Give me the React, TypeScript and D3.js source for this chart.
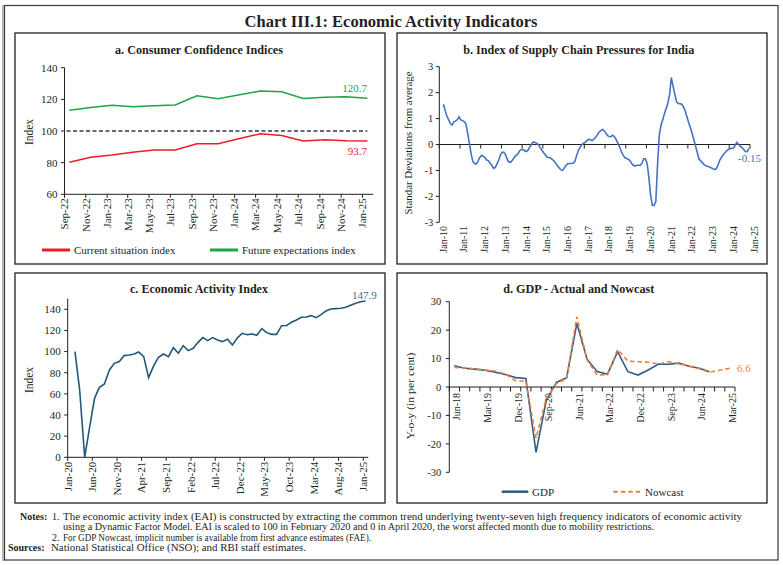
import * as d3 from "d3";

const W = 783;
const H = 565;
const FONT = "'Liberation Serif', 'Times New Roman', serif";
const INK = "#231f20";

// a. Consumer confidence survey rounds (bi-monthly)
const ccRounds = ["Sep-22", "Nov-22", "Jan-23", "Mar-23", "May-23", "Jul-23", "Sep-23", "Nov-23", "Jan-24", "Mar-24", "May-24", "Jul-24", "Sep-24", "Nov-24", "Jan-25"];
const currentSituation = [80.2, 83.4, 84.8, 86.5, 88.0, 88.0, 92.0, 92.0, 95.2, 98.3, 97.1, 93.7, 94.5, 93.9, 93.7];
const futureExpectations = [113.1, 114.9, 116.2, 115.4, 116.0, 116.4, 122.3, 120.4, 122.9, 125.3, 124.8, 120.6, 121.3, 121.7, 120.7];
const ccTicks = [60, 80, 100, 120, 140];
const neutralLevel = 100;

// b. Index of supply chain pressures, monthly from Mar-10 to Dec-24
const scpStart = "Mar-10";
const scpValues = [
  1.55, 1.3, 1.1, 0.95, 0.8, 0.75, 0.88, 0.9, 0.96, 1.07, // 2010 (Mar-Dec)
  0.95, 0.92, 0.88, 0.8, 0.45, 0.05, -0.35, -0.65, -0.73, -0.75, -0.65, -0.5, // 2011
  -0.42, -0.45, -0.5, -0.6, -0.62, -0.72, -0.8, -0.92, -0.88, -0.75, -0.6, -0.4, // 2012
  -0.3, -0.3, -0.4, -0.58, -0.68, -0.68, -0.6, -0.5, -0.42, -0.37, -0.25, -0.19, // 2013
  -0.19, -0.24, -0.27, -0.22, -0.1, 0.0, 0.1, 0.08, 0.04, 0.0, -0.12, -0.22, // 2014
  -0.32, -0.4, -0.48, -0.5, -0.52, -0.57, -0.63, -0.72, -0.82, -0.9, -0.98, -1.0, // 2015
  -0.9, -0.8, -0.74, -0.73, -0.73, -0.72, -0.67, -0.45, -0.25, -0.12, -0.02, 0.04, // 2016
  0.08, 0.15, 0.2, 0.19, 0.15, 0.2, 0.27, 0.36, 0.47, 0.53, 0.58, 0.54, // 2017
  0.45, 0.34, 0.31, 0.3, 0.36, 0.3, 0.2, 0.05, -0.09, -0.27, -0.4, -0.5, // 2018
  -0.54, -0.57, -0.62, -0.72, -0.8, -0.83, -0.8, -0.8, -0.8, -0.72, -0.55, -0.55, // 2019
  -0.75, -1.3, -1.95, -2.35, -2.35, -2.2, -0.8, 0.35, 0.75, 0.95, 1.2, 1.4, // 2020
  1.6, 1.95, 2.58, 2.25, 1.95, 1.65, 1.58, 1.57, 1.55, 1.45, 1.3, 1.07, // 2021
  0.85, 0.65, 0.45, 0.2, -0.05, -0.3, -0.55, -0.63, -0.7, -0.78, -0.82, -0.85, // 2022
  -0.86, -0.9, -0.93, -0.96, -0.95, -0.8, -0.62, -0.5, -0.4, -0.32, -0.25, -0.19, // 2023
  -0.16, -0.15, -0.14, -0.03, 0.08, 0.0, -0.07, -0.12, -0.2, -0.28, -0.27, -0.15, // 2024
];
const scpTicks = [-3, -2, -1, 0, 1, 2, 3];
const scpYears = ["Jan-10", "Jan-11", "Jan-12", "Jan-13", "Jan-14", "Jan-15", "Jan-16", "Jan-17", "Jan-18", "Jan-19", "Jan-20", "Jan-21", "Jan-22", "Jan-23", "Jan-24", "Jan-25"];

// c. Economic activity index, monthly from Feb-20 to Jan-25
const eaiStart = "Feb-20";
const eaiValues = [
  100, 63.6, 0, 28, 55.8, 66.2, 69.4, 82.6, 88.9, 90.5, 96.2,
  96.8, 97.7, 99.6, 95.2, 75.3, 86.4, 94.6, 97.7, 95.2, 103.7, 98.4, 105.6,
  100.9, 103.1, 108.5, 113.2, 110.4, 113.2, 111.0, 109.4, 111.6, 106.2, 113.0, 117.3,
  116.0, 116.6, 115.4, 121.7, 117.9, 116.3, 116.3, 124.5, 124.7, 127.7, 129.9, 132.4,
  132.7, 134.0, 132.1, 135.0, 138.4, 140.3, 140.6, 141.0, 141.9, 143.8, 145.7, 147.2,
  147.9,
];
const eaiTicks = [0, 20, 40, 60, 80, 100, 120, 140];
const eaiLabels = ["Jan-20", "Jun-20", "Nov-20", "Apr-21", "Sep-21", "Feb-22", "Jul-22", "Dec-22", "May-23", "Oct-23", "Mar-24", "Aug-24", "Jan-25"];

// d. GDP growth, quarterly
const quarters = ["Jun-18", "Sep-18", "Dec-18", "Mar-19", "Jun-19", "Sep-19", "Dec-19", "Mar-20", "Jun-20", "Sep-20", "Dec-20", "Mar-21", "Jun-21", "Sep-21", "Dec-21", "Mar-22", "Jun-22", "Sep-22", "Dec-22", "Mar-23", "Jun-23", "Sep-23", "Dec-23", "Mar-24", "Jun-24", "Sep-24", "Dec-24", "Mar-25"];
const gdpActual = [7.5, 6.6, 6.3, 5.9, 5.2, 4.4, 3.3, 3.0, -23.0, -4.8, 1.6, 3.3, 22.4, 9.8, 5.4, 4.5, 12.4, 5.4, 4.2, 6.0, 8.1, 8.0, 8.4, 7.3, 6.6, 5.4];
const gdpNowcast = [6.9, 6.7, 6.4, 6.0, 5.6, 4.5, 2.2, 2.0, -18.0, -4.0, 1.2, 3.0, 24.7, 9.5, 4.2, 4.3, 13.2, 9.1, 8.9, 8.7, 8.1, 8.9, 8.2, 7.4, 6.4, 5.2, 5.9, 6.6];
const gdpTicks = [-30, -20, -10, 0, 10, 20, 30];
const gdpLabels = ["Jun-18", "Mar-19", "Dec-19", "Sep-20", "Jun-21", "Mar-22", "Dec-22", "Sep-23", "Jun-24", "Mar-25"];

const parseMonth = d3.utcParse("%b-%y");
const monthStart = (label: string) => parseMonth(label) as Date;
const midMonth = (label: string) => d3.utcDay.offset(monthStart(label), 14);

function YAxis({ scale, ticks, x, size = 11, gap = 7 }: any) {
  const [y0, y1] = scale.range();
  return (
    <g>
      <line x1={x} x2={x} y1={y0} y2={y1} stroke={INK} strokeWidth={1} />
      {ticks.map((t: number) => (
        <g key={t}>
          <line x1={x - 3.5} x2={x} y1={scale(t)} y2={scale(t)} stroke={INK} strokeWidth={1} />
          <text x={x - gap} y={scale(t)} dy="0.35em" textAnchor="end" fontSize={size} fill={INK}>
            {t}
          </text>
        </g>
      ))}
    </g>
  );
}

function RotText({ x, y, text, size, anchor = "end", length }: any) {
  return (
    <text
      transform={`translate(${x},${y}) rotate(-90)`}
      dy="0.35em"
      textAnchor={anchor}
      fontSize={size}
      fill={INK}
      textLength={length}
      lengthAdjust={length ? "spacingAndGlyphs" : undefined}
    >
      {text}
    </text>
  );
}

function Title({ x, y, text, length }: any) {
  return (
    <text
      x={x}
      y={y}
      textAnchor="middle"
      fontSize={13}
      fontWeight="bold"
      fill={INK}
      textLength={length}
      lengthAdjust="spacingAndGlyphs"
    >
      {text}
    </text>
  );
}

function PanelBox({ x, y, w, h }: any) {
  return <rect x={x} y={y} width={w} height={h} fill="#fff" stroke={INK} strokeWidth={1.3} />;
}

function ConsumerConfidence() {
  const x = d3.scaleUtc().domain([monthStart("Sep-22"), monthStart("Feb-25")]).range([64.5, 373.3]);
  const y = d3.scaleLinear().domain([60, 140]).range([194.3, 67.7]);
  const dates = ccRounds.map(midMonth);
  const path = d3
    .line<number>()
    .x((_, i) => x(dates[i]))
    .y((v) => y(v));
  const baseY = y(60);
  return (
    <g>
      <PanelBox x={15} y={33} w={370} h={231} />
      <Title x={199} y={54} text="a. Consumer Confidence Indices" length={168} />
      <YAxis scale={y} ticks={ccTicks} x={x.range()[0]} />
      <line x1={x.range()[0]} x2={x.range()[1]} y1={baseY} y2={baseY} stroke={INK} />
      {ccRounds.map((label) => {
        const px = x(monthStart(label));
        return (
          <g key={label}>
            <line x1={px} x2={px} y1={baseY} y2={baseY + 3.5} stroke={INK} />
            <RotText x={px} y={baseY + 4} text={label} size={11} />
          </g>
        );
      })}
      <RotText x={29} y={132} text="Index" size={11.5} anchor="middle" />
      <line
        x1={x(monthStart(ccRounds[0])) + 2}
        x2={x(dates[dates.length - 1])}
        y1={y(neutralLevel)}
        y2={y(neutralLevel)}
        stroke="#2c3a4c"
        strokeWidth={1.5}
        strokeDasharray="4,2.5"
      />
      <path d={path(futureExpectations) ?? ""} fill="none" stroke="#21a348" strokeWidth={1.5} />
      <path d={path(currentSituation) ?? ""} fill="none" stroke="#ed1c24" strokeWidth={1.5} />
      <text x={367} y={92} textAnchor="end" fontSize={11} fill="#21a348">
        {futureExpectations[futureExpectations.length - 1].toFixed(1)}
      </text>
      <text x={367} y={155} textAnchor="end" fontSize={11} fill="#ed1c24">
        {currentSituation[currentSituation.length - 1].toFixed(1)}
      </text>
      <line x1={42} x2={70} y1={250} y2={250} stroke="#ed1c24" strokeWidth={3} />
      <text x={74} y={253.8} fontSize={11} fill={INK}>Current situation index</text>
      <line x1={210} x2={238} y1={250} y2={250} stroke="#21a348" strokeWidth={3} />
      <text x={242} y={253.8} fontSize={11} fill={INK}>Future expectations index</text>
    </g>
  );
}

function SupplyChain() {
  const x = d3.scaleUtc().domain([monthStart("Jan-10"), monthStart("Jan-25")]).range([439.3, 750]);
  const y = d3.scaleLinear().domain([-3, 3]).range([222.3, 66.7]);
  const first = midMonth(scpStart);
  const dates = scpValues.map((_, i) => d3.utcMonth.offset(first, i));
  const path = d3
    .line<number>()
    .x((_, i) => x(dates[i]))
    .y((v) => y(v));
  const zeroY = y(0);
  return (
    <g>
      <PanelBox x={397} y={33} w={370} h={231} />
      <Title x={578.7} y={54} text="b. Index of Supply Chain Pressures for India" length={231} />
      <YAxis scale={y} ticks={scpTicks} x={x.range()[0]} size={10.5} gap={6} />
      <line x1={x.range()[0]} x2={x.range()[1]} y1={zeroY} y2={zeroY} stroke={INK} />
      {scpYears.map((label) => {
        const px = x(monthStart(label));
        return (
          <g key={label}>
            <line x1={px} x2={px} y1={zeroY} y2={zeroY + 4} stroke={INK} />
            <RotText x={px + 4} y={226} text={label} size={10} />
          </g>
        );
      })}
      <RotText x={408} y={143} text="Standar Deviations from average" size={11} anchor="middle" length={143} />
      <path d={path(scpValues) ?? ""} fill="none" stroke="#4472c4" strokeWidth={1.6} />
      <text x={738} y={162} fontSize={11} fill="#4472c4">
        {scpValues[scpValues.length - 1].toFixed(2)}
      </text>
    </g>
  );
}

function ActivityIndex() {
  const x = d3.scaleUtc().domain([monthStart("Jan-20"), monthStart("Feb-25")]).range([67.7, 368.3]);
  const y = d3.scaleLinear().domain([0, 150]).range([457.3, 298.7]);
  const first = midMonth(eaiStart);
  const dates = eaiValues.map((_, i) => d3.utcMonth.offset(first, i));
  const path = d3
    .line<number>()
    .x((_, i) => x(dates[i]))
    .y((v) => y(v));
  const baseY = y(0);
  return (
    <g>
      <PanelBox x={15} y={273} w={370} h={230} />
      <Title x={199} y={293} text="c. Economic Activity Index" length={138} />
      <YAxis scale={y} ticks={eaiTicks} x={x.range()[0]} />
      <line x1={x.range()[0]} x2={x.range()[1]} y1={baseY} y2={baseY} stroke={INK} />
      {eaiLabels.map((label) => {
        const px = x(monthStart(label));
        return (
          <g key={label}>
            <line x1={px} x2={px} y1={baseY} y2={baseY + 3.5} stroke={INK} />
            <RotText x={px} y={baseY + 4.5} text={label} size={11} />
          </g>
        );
      })}
      <RotText x={29} y={380} text="Index" size={11.5} anchor="middle" />
      <path d={path(eaiValues) ?? ""} fill="none" stroke="#21587a" strokeWidth={1.6} />
      <text x={352} y={299} fontSize={11} fill="#3a6d8c">
        {eaiValues[eaiValues.length - 1].toFixed(1)}
      </text>
    </g>
  );
}

function GdpNowcast() {
  const x = d3.scaleBand<string>().domain(quarters).range([449.3, 735]);
  const y = d3.scaleLinear().domain([-30, 30]).range([472.3, 301.7]);
  const cx = (q: string) => (x(q) as number) + x.bandwidth() / 2;
  const path = d3
    .line<number>()
    .x((_, i) => cx(quarters[i]))
    .y((v) => y(v));
  const zeroY = y(0);
  const [x0, x1] = x.range();
  return (
    <g>
      <PanelBox x={397} y={273} w={370} h={230} />
      <Title x={578.8} y={293} text="d. GDP - Actual and Nowcast" length={151} />
      <YAxis scale={y} ticks={gdpTicks} x={x0} size={10.5} gap={8} />
      <line x1={x0} x2={x1} y1={zeroY} y2={zeroY} stroke={INK} />
      {quarters.map((q) => (
        <line key={q} x1={x(q)} x2={x(q)} y1={zeroY} y2={zeroY + 4.5} stroke={INK} />
      ))}
      <line x1={x1} x2={x1} y1={zeroY} y2={zeroY + 4.5} stroke={INK} />
      {gdpLabels.map((label) => (
        <RotText key={label} x={cx(label) + 2.5} y={zeroY + 6} text={label} size={10} />
      ))}
      <RotText x={410} y={396} text="Y-o-y (in per cent)" size={11} anchor="middle" length={87} />
      <path d={path(gdpActual) ?? ""} fill="none" stroke="#2b5d86" strokeWidth={1.6} />
      <path
        d={path(gdpNowcast) ?? ""}
        fill="none"
        stroke="#f07f3c"
        strokeWidth={1.6}
        strokeDasharray="4.5,3"
      />
      <text x={737} y={371.5} fontSize={11} fill="#f07f3c">
        {gdpNowcast[gdpNowcast.length - 1].toFixed(1)}
      </text>
      <line x1={501.7} x2={528.3} y1={491.7} y2={491.7} stroke="#2b5d86" strokeWidth={2.5} />
      <text x={532} y={495.5} fontSize={11} fill={INK}>GDP</text>
      <line
        x1={613.3}
        x2={640}
        y1={491.7}
        y2={491.7}
        stroke="#f07f3c"
        strokeWidth={2}
        strokeDasharray="4.5,3"
      />
      <text x={645} y={495.5} fontSize={11} fill={INK}>Nowcast</text>
    </g>
  );
}

function Notes() {
  return (
    <g fontSize={10} fill={INK}>
      <text x={20} y={519.5} fontWeight="bold">Notes:</text>
      <text x={52} y={519.5}>1.</text>
      <text x={63} y={519.5} textLength={679} lengthAdjust="spacingAndGlyphs">
        The economic activity index (EAI) is constructed by extracting the common trend underlying twenty-seven high frequency indicators of economic activity
      </text>
      <text x={63} y={530} textLength={591} lengthAdjust="spacingAndGlyphs">
        using a Dynamic Factor Model. EAI is scaled to 100 in February 2020 and 0 in April 2020, the worst affected month due to mobility restrictions.
      </text>
      <text x={52} y={540.5}>2.</text>
      <text x={63} y={540.5} textLength={308} lengthAdjust="spacingAndGlyphs">
        For GDP Nowcast, implicit number is available from first advance estimates (FAE).
      </text>
      <text x={8} y={551} fontWeight="bold">Sources:</text>
      <text x={51} y={551} textLength={255} lengthAdjust="spacingAndGlyphs">
        National Statistical Office (NSO); and RBI staff estimates.
      </text>
    </g>
  );
}

export default function App() {
  return (
    <div style={{ position: "absolute", left: 0, top: 0 }}>
      <svg width={W} height={H} viewBox={`0 0 ${W} ${H}`} fontFamily={FONT} style={{ display: "block", background: "#fff" }}>
        <rect x={4.5} y={5.5} width={773.5} height={554.5} fill="#fff" stroke="#3a3a3a" strokeWidth={1.2} />
        <line x1={3} x2={3} y1={5} y2={561} stroke="#b5b5b5" strokeWidth={2} />
        <text x={391} y={26.5} textAnchor="middle" fontSize={16.5} fontWeight="bold" fill={INK}>
          Chart III.1: Economic Activity Indicators
        </text>
        <ConsumerConfidence />
        <SupplyChain />
        <ActivityIndex />
        <GdpNowcast />
        <Notes />
      </svg>
    </div>
  );
}
